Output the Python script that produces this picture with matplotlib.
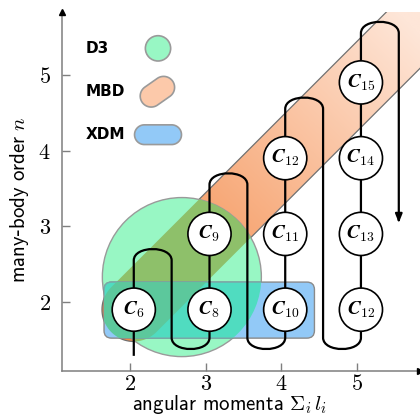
import numpy as np
import matplotlib
matplotlib.use("Agg")
import matplotlib.pyplot as plt
from matplotlib.patches import Circle, Polygon, FancyBboxPatch, PathPatch
from matplotlib.path import Path
from matplotlib.colors import LinearSegmentedColormap

plt.rcParams['mathtext.fontset'] = 'cm'

# coefficient nodes: angular momentum l, many-body order n, label
node_l = [2, 3, 3, 4, 4, 4, 5, 5, 5, 5]
node_n = [2, 2, 3, 2, 3, 4, 2, 3, 4, 5]
node_labels = ['6', '8', '9', '10', '11', '12', '12', '13', '14', '15']

# snake path: one column per l, turning at the top of each column
path_cols = [2, 3, 4, 5]
path_tops = [2, 3, 4, 5]

x_ticks = [2, 3, 4, 5]
y_ticks = [2, 3, 4, 5]
legend_names = ['D3', 'MBD', 'XDM']

GREEN = '#98f7c4'
BLUE = '#92c9f7'

fig = plt.figure(figsize=(4.2, 4.16), dpi=100)
ax = fig.add_axes([62 / 420, 45 / 416, 358 / 420, 359 / 416])
xmin, xmax = 1.102, 5.83
ymin, ymax = 1.09, 5.83
ax.set_xlim(xmin, xmax)
ax.set_ylim(ymin, ymax)

dx, dy = 0.05, -0.1   # nodes sit a bit off the grid in the original


def stadium(x0, y0, hw, length, ang):
    u = np.array([np.cos(ang), np.sin(ang)])
    v = np.array([-u[1], u[0]])
    p0 = np.array([x0, y0])
    p1 = p0 + length * u
    t = np.linspace(np.pi / 2, 3 * np.pi / 2, 50)
    cap0 = p0 + hw * (np.outer(np.cos(t), u) + np.outer(np.sin(t), v))
    cap1 = p1 + hw * (np.outer(-np.cos(t), u) + np.outer(-np.sin(t), v))
    return np.vstack([cap0, cap1])


# MBD band
c6x, c6y = node_l[0] + dx, node_n[0] + dy
band_pts = stadium(c6x, c6y, 0.42, 7.0, np.pi / 4)
band = Polygon(band_pts, closed=True, fc='none', ec='#707070', lw=0.9, zorder=2)
ax.add_patch(band)
X, Y = np.meshgrid(np.linspace(xmin, xmax, 300), np.linspace(ymin, ymax, 300))
cmap = LinearSegmentedColormap.from_list('mbd', ['#f48a48', '#fee6d8'])
im = ax.imshow(X + Y, extent=[xmin, xmax, ymin, ymax], origin='lower', cmap=cmap,
               vmin=3.95, vmax=11.4, aspect='auto', zorder=1)
im.set_clip_path(band)

# D3 circle
circ = Circle((2.685, 2.33), 1.05, fc=GREEN, ec='#9a9a9a', lw=1.0, zorder=3)
ax.add_patch(circ)
olive = Polygon(band_pts, closed=True, fc='#8ec06a', ec='none', zorder=3.1)
ax.add_patch(olive)
olive.set_clip_path(circ)

# XDM box
rx0, rx1, ry0, ry1 = 1.657, 4.436, 1.524, 2.264
box = FancyBboxPatch((rx0, ry0), rx1 - rx0, ry1 - ry0, boxstyle='round,pad=0,rounding_size=0.1',
                     fc=BLUE, ec='#8a8a8a', lw=1.0, zorder=4)
ax.add_patch(box)
teal = FancyBboxPatch((rx0, ry0), rx1 - rx0, ry1 - ry0, boxstyle='round,pad=0,rounding_size=0.1',
                      fc='#50dcc0', ec='#7aa', lw=1.0, zorder=4.1)
ax.add_patch(teal)
teal.set_clip_path(circ)
mix = FancyBboxPatch((rx0, ry0), rx1 - rx0, ry1 - ry0, boxstyle='round,pad=0,rounding_size=0.1',
                     fc='#5cc89c', ec='none', zorder=4.2)
ax.add_patch(mix)
mix.set_clip_path(Polygon(band_pts, closed=True, transform=ax.transData))

# snake path with bezier turns
k = 0.2
verts = [(path_cols[0] + dx, 1.29)]
codes = [Path.MOVETO]
bot = 1.38 + 0.15
for i, (c, n) in enumerate(zip(path_cols, path_tops)):
    x0 = c + dx
    x1 = x0 + 0.5
    top = n + 0.7 - 0.15
    if i > 0:
        xp = x0 - 0.5
        verts += [(xp, bot - k), (x0, bot - k), (x0, bot)]
        codes += [Path.CURVE4] * 3
    verts += [(x0, top)]
    codes += [Path.LINETO]
    verts += [(x0, top + k), (x1, top + k), (x1, top)]
    codes += [Path.CURVE4] * 3
    if i < len(path_cols) - 1:
        verts += [(x1, bot)]
        codes += [Path.LINETO]
verts += [(path_cols[-1] + dx + 0.5, 3.12)]
codes += [Path.LINETO]
ax.add_patch(PathPatch(Path(verts, codes), fc='none', ec='black', lw=1.6, zorder=5,
                       capstyle='butt', joinstyle='round'))
ax.annotate('', xy=(path_cols[-1] + dx + 0.5, 3.01), xytext=(path_cols[-1] + dx + 0.5, 3.14),
            arrowprops=dict(arrowstyle='-|>,head_length=0.5,head_width=0.2', color='black', lw=1.6),
            zorder=5)

# coefficient nodes
for l, n, lab in zip(node_l, node_n, node_labels):
    ax.add_patch(Circle((l + dx, n + dy), 0.285, fc='white', ec='black', lw=1.2, zorder=6))
    ax.text(l + dx, n + dy, r'$\boldsymbol{C}_{%s}$' % lab, ha='center', va='center',
            fontsize=14, zorder=7)

# legend
lx = 2.37
ax.add_patch(Circle((lx, 5.35), 0.167, fc=GREEN, ec='#9a9a9a', lw=1.2, zorder=6))
ax.add_patch(Polygon(stadium(lx - 0.09, 4.72, 0.145, 0.2, np.radians(35)), closed=True,
                     fc='#fcc9aa', ec='#9a9a9a', lw=1.2, zorder=6))
ax.add_patch(Polygon(stadium(lx - 0.18, 4.21, 0.13, 0.36, 0.0), closed=True,
                     fc=BLUE, ec='#9a9a9a', lw=1.2, zorder=6))
for name, y in zip(legend_names, [5.35, 4.78, 4.21]):
    ax.text(1.41, y, name, ha='left', va='center', fontsize=11, fontweight='bold', zorder=6)

# axes styling
for s in ['top', 'right']:
    ax.spines[s].set_visible(False)
for s in ['left', 'bottom']:
    ax.spines[s].set_color('#7f7f7f')
    ax.spines[s].set_linewidth(1.1)
ax.plot(1, 0, '>', color='black', ms=4, transform=ax.transAxes, clip_on=False, zorder=8)
ax.plot(0, 1, '^', color='black', ms=4, transform=ax.transAxes, clip_on=False, zorder=8)
ax.set_xticks(x_ticks)
ax.set_yticks(y_ticks)
ax.set_xticklabels([r'$%d$' % t for t in x_ticks])
ax.set_yticklabels([r'$%d$' % t for t in y_ticks])
ax.tick_params(direction='in', length=6, width=1, color='#7f7f7f', labelsize=16)
ax.tick_params(axis='x', pad=2)
ax.tick_params(axis='y', pad=8)

fig.text(230 / 420, 1 - 405 / 416, r'$\mathsf{angular\ momenta}\ \Sigma_i\, l_i$',
         ha='center', va='center', fontsize=15)
fig.text(20 / 420, 1 - 200 / 416, r'$\mathsf{many}$-$\mathsf{body\ order}\ n$',
         ha='center', va='center', rotation=90, fontsize=15)

fig.savefig('out.png', dpi=100)
